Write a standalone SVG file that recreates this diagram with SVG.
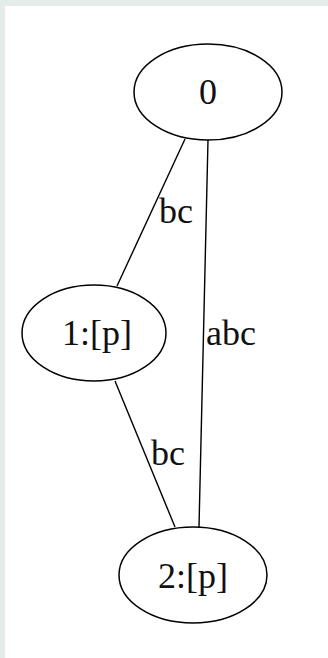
<svg xmlns="http://www.w3.org/2000/svg" width="328" height="658" viewBox="0 0 328 658">
<style>
.node ellipse{fill:#ffffff;stroke:#000000;stroke-width:1.5}
.lbl{font-family:"Liberation Serif","Times New Roman",serif;font-size:36px;fill:#111111}
.edges line{stroke:#000000;stroke-width:1.4;fill:none}
</style>
<rect x="0" y="0" width="328" height="658" fill="#e4ece9"/>
<rect x="5" y="6" width="323" height="652" fill="#ffffff"/>
<g id="edges" class="edges">
<line x1="185" y1="139" x2="117" y2="286"/>
<text class="lbl" x="159" y="223">bc</text>
<line x1="208" y1="140" x2="199" y2="527"/>
<text class="lbl" x="206" y="345">abc</text>
<line x1="115" y1="381" x2="175" y2="527"/>
<text class="lbl" x="151" y="465">bc</text>
</g>
<g id="node0" class="node">
<ellipse cx="208" cy="92" rx="74" ry="48"/>
<text class="lbl" x="208" y="104" text-anchor="middle">0</text>
</g>
<g id="node1" class="node">
<ellipse cx="94" cy="333" rx="72" ry="48"/>
<text class="lbl" x="97" y="345" text-anchor="middle">1:[p]</text>
</g>
<g id="node2" class="node">
<ellipse cx="193" cy="575" rx="74" ry="48"/>
<text class="lbl" x="193" y="588" text-anchor="middle">2:[p]</text>
</g>
</svg>
